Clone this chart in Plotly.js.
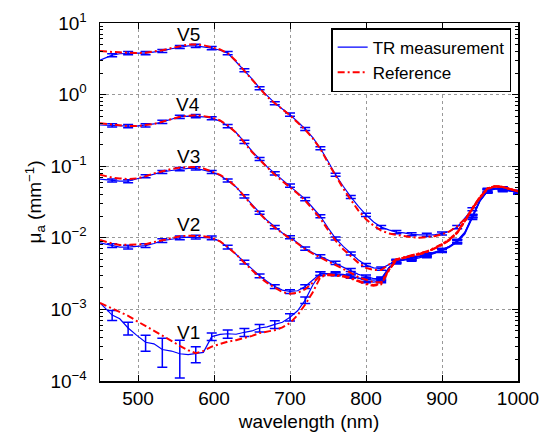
<!DOCTYPE html>
<html>
<head>
<meta charset="utf-8">
<script src="https://cdn.plot.ly/plotly-3.0.1.min.js"></script>
<style>html,body{margin:0;padding:0;background:#fff;}#chart{width:543px;height:436px;}</style>
</head>
<body>
<div id="chart"></div>
<script>
// wavelength grid (nm)
const wavelength = [450,458,466,476,487,498,510,521,532,544,555,566,576,586,597,608,618,629,640,650,660,670,680,690,700,710,720,730,740,750,760,770,780,790,800,810,820,830,840,850,860,870,880,890,900,910,920,930,940,950,960,970,980,990,1000];

// TR measurement (mm^-1)
const trV5 = [3.02,3.31,3.55,3.72,3.80,3.80,3.80,3.89,4.07,4.37,4.62,4.79,4.79,4.68,4.47,4.17,3.80,2.88,2.19,1.66,1.23,0.955,0.759,0.631,0.525,0.417,0.331,0.251,0.178,0.117,0.0759,0.0525,0.0372,0.0275,0.0209,0.0166,0.0141,0.0129,0.0120,0.0117,0.0112,0.0110,0.0110,0.0110,0.0115,0.0123,0.0141,0.0186,0.0251,0.0355,0.0468,0.0490,0.0490,0.0457,0.0437];
const trV4 = [0.376,0.372,0.372,0.367,0.363,0.363,0.372,0.389,0.417,0.457,0.490,0.501,0.501,0.490,0.468,0.427,0.363,0.295,0.219,0.162,0.126,0.0977,0.0794,0.0646,0.0537,0.0437,0.0347,0.0263,0.0200,0.0138,0.00977,0.00759,0.00603,0.00490,0.00417,0.00380,0.00372,0.00427,0.00479,0.00501,0.00525,0.00550,0.00589,0.00631,0.00676,0.00759,0.00891,0.0117,0.0200,0.0331,0.0447,0.0490,0.0479,0.0457,0.0427];
const trV3 = [0.0661,0.0646,0.0631,0.0617,0.0617,0.0661,0.0724,0.0776,0.0832,0.0871,0.0912,0.0933,0.0933,0.0891,0.0832,0.0741,0.0631,0.0513,0.0380,0.0288,0.0224,0.0174,0.0141,0.0117,0.0102,0.00851,0.00708,0.00617,0.00550,0.00501,0.00447,0.00398,0.00355,0.00309,0.00288,0.00269,0.00269,0.00380,0.00468,0.00490,0.00513,0.00537,0.00575,0.00617,0.00661,0.00759,0.00891,0.0117,0.0200,0.0331,0.0457,0.0490,0.0479,0.0457,0.0427];
const trV2 = [0.00851,0.00813,0.00776,0.00741,0.00741,0.00759,0.00776,0.00832,0.00912,0.00955,0.0100,0.0102,0.0102,0.0102,0.0100,0.00891,0.00741,0.00589,0.00457,0.00363,0.00295,0.00245,0.00209,0.00186,0.00178,0.00182,0.00209,0.00257,0.00316,0.00316,0.00316,0.00309,0.00295,0.00269,0.00251,0.00240,0.00251,0.00380,0.00457,0.00490,0.00501,0.00525,0.00562,0.00603,0.00661,0.00741,0.00871,0.0112,0.0191,0.0324,0.0447,0.0490,0.0468,0.0447,0.0437];
const trV1 = [0.00123,0.00100,0.000832,0.000740,0.000550,0.000437,0.000347,0.000330,0.000275,0.000262,0.000240,0.000234,0.000240,0.000251,0.000417,0.000447,0.000457,0.000450,0.000479,0.000500,0.000550,0.000570,0.000617,0.000660,0.000776,0.000955,0.00135,0.00219,0.00316,0.00316,0.00309,0.00302,0.00288,0.00275,0.00263,0.00257,0.00263,0.00380,0.00468,0.00490,0.00513,0.00550,0.00575,0.00617,0.00676,0.00759,0.00912,0.0120,0.0204,0.0339,0.0457,0.0479,0.0479,0.0447,0.0427];

// Reference (mm^-1)
const refV5 = [4.07,3.98,3.94,3.89,3.80,3.80,3.85,3.98,4.17,4.47,4.79,5.01,5.01,4.90,4.57,4.27,3.80,2.95,2.14,1.62,1.20,0.933,0.759,0.631,0.513,0.407,0.324,0.245,0.174,0.112,0.0724,0.0490,0.0339,0.0240,0.0182,0.0148,0.0126,0.0115,0.0110,0.0105,0.0102,0.0100,0.0102,0.0105,0.0112,0.0123,0.0145,0.0182,0.0251,0.0363,0.0479,0.0525,0.0513,0.0479,0.0447];
const refV4 = [0.398,0.389,0.380,0.372,0.363,0.363,0.372,0.389,0.417,0.457,0.490,0.507,0.513,0.501,0.479,0.437,0.372,0.295,0.214,0.158,0.123,0.0955,0.0759,0.0617,0.0513,0.0417,0.0331,0.0251,0.0186,0.0129,0.00912,0.00692,0.00550,0.00447,0.00380,0.00355,0.00355,0.00417,0.00501,0.00525,0.00562,0.00589,0.00646,0.00708,0.00813,0.00955,0.0120,0.0174,0.0263,0.0372,0.0490,0.0525,0.0513,0.0479,0.0447];
const refV3 = [0.0759,0.0724,0.0692,0.0676,0.0661,0.0676,0.0724,0.0794,0.0851,0.0912,0.0955,0.0977,0.0977,0.0933,0.0851,0.0759,0.0646,0.0513,0.0380,0.0282,0.0219,0.0170,0.0138,0.0115,0.00977,0.00832,0.00692,0.00603,0.00525,0.00468,0.00417,0.00372,0.00324,0.00282,0.00257,0.00240,0.00240,0.00355,0.00501,0.00537,0.00562,0.00603,0.00646,0.00724,0.00813,0.00955,0.0120,0.0170,0.0263,0.0372,0.0490,0.0525,0.0513,0.0479,0.0447];
const refV2 = [0.00933,0.00871,0.00832,0.00794,0.00794,0.00794,0.00813,0.00871,0.00933,0.0100,0.0105,0.0107,0.0107,0.0105,0.0100,0.00891,0.00741,0.00589,0.00447,0.00355,0.00282,0.00234,0.00200,0.00174,0.00166,0.00170,0.00191,0.00240,0.00295,0.00309,0.00302,0.00295,0.00275,0.00251,0.00229,0.00219,0.00229,0.00355,0.00490,0.00525,0.00550,0.00589,0.00631,0.00708,0.00794,0.00933,0.0117,0.0170,0.0257,0.0363,0.0490,0.0525,0.0513,0.0479,0.0447];
const refV1 = [0.00123,0.00112,0.00102,0.000912,0.000813,0.000692,0.000589,0.000501,0.000427,0.000363,0.000309,0.000269,0.000245,0.000263,0.000302,0.000331,0.000355,0.000372,0.000398,0.000427,0.000468,0.000490,0.000513,0.000562,0.000646,0.000832,0.00117,0.00174,0.00282,0.00302,0.00295,0.00288,0.00269,0.00245,0.00224,0.00214,0.00224,0.00347,0.00490,0.00525,0.00550,0.00589,0.00631,0.00708,0.00794,0.00933,0.0117,0.0170,0.0257,0.0363,0.0490,0.0525,0.0513,0.0479,0.0447];

// error bars: grid indices where a bar is drawn, and bar half-lengths
const errIndex = [2,4,6,8,10,12,14,16,18,20,22,24,26,28,30,32,34,36,38,40,42,44,46,48,50,52,54];
const errV1 = [0.00013,0.00011,0.000087,0.00012,0.00013,0.00006,0.00005,0.00006,0.00006,0.000065,0.000075,0.00009,0.00014,0.00019,0.00015,0.00015,0.00018,0.00016,0.00023,0.00025,0.00029,0.00034,0.00046,0.0010,0.0023,0.0020,0.0018];
const errPercent = {V2: 6, V3: 5, V4: 5, V5: 5};

const labels = ['V5','V4','V3','V2','V1'];
const labelLogY = [0.846,-0.145,-0.858,-1.82,-3.32];
const labelX = 566;

const yTickVals = [0.0001,0.001,0.01,0.1,1,10];
const yTickText = ['10<sup>−4</sup>','10<sup>−3</sup>','10<sup>−2</sup>','10<sup>−1</sup>','10<sup>0</sup>','10<sup>1</sup>'];
const xTickVals = [500,600,700,800,900,1000];

const BLUE = '#0000ff', RED = '#ff0000';
const curves = [
  {name:'V5', tr:trV5, ref:refV5},
  {name:'V4', tr:trV4, ref:refV4},
  {name:'V3', tr:trV3, ref:refV3},
  {name:'V2', tr:trV2, ref:refV2},
  {name:'V1', tr:trV1, ref:refV1}
];

const traces = [];
curves.forEach((c, k) => {
  traces.push({
    x: wavelength, y: c.tr, type:'scatter', mode:'lines',
    line:{color:BLUE, width:1.2}, name:'TR measurement',
    legendgroup:'tr', showlegend:k===0, hoverinfo:'skip'
  });
  const ex = errIndex.map(i => wavelength[i]);
  const ey = errIndex.map(i => c.tr[i]);
  const err = c.name === 'V1'
    ? {type:'data', array:errV1, visible:true, color:BLUE, thickness:1.5, width:5}
    : {type:'percent', value:errPercent[c.name], visible:true, color:BLUE, thickness:1.5, width:5};
  traces.push({
    x: ex, y: ey, type:'scatter', mode:'markers',
    marker:{color:BLUE, size:1}, error_y: err,
    legendgroup:'tr', showlegend:false, hoverinfo:'skip'
  });
});
curves.forEach((c, k) => {
  traces.push({
    x: wavelength, y: c.ref, type:'scatter', mode:'lines',
    line:{color:RED, width:2, dash:'7px,3px,2px,3px'}, name:'Reference',
    legendgroup:'ref', showlegend:k===0, hoverinfo:'skip'
  });
});

// minor tick positions on the log axis
const minorVals = [];
for (let e = -4; e < 1; e++) for (let m = 2; m <= 9; m++) minorVals.push(m * Math.pow(10, e));

const FONT = 'Liberation Sans, Arial, Helvetica, sans-serif';
const layout = {
  width:543, height:436,
  margin:{l:100, r:25, t:23, b:55},
  paper_bgcolor:'#fff', plot_bgcolor:'#fff',
  font:{family:FONT, size:19, color:'#000'},
  showlegend:true,
  legend:{x:0.553, y:0.986, xanchor:'left', yanchor:'top',
          bgcolor:'#fff', bordercolor:'#000', borderwidth:1.5,
          font:{family:FONT, size:17, color:'#000'}, tracegroupgap:0, itemwidth:30},
  xaxis:{
    range:[450,1000], tickmode:'array', tickvals:xTickVals,
    ticks:'inside', ticklen:6, tickwidth:1, tickcolor:'#000',
    showline:true, linecolor:'#000', linewidth:1.5, mirror:'ticks',
    showgrid:true, gridcolor:'#999', griddash:'dot', gridwidth:1,
    zeroline:false, tickfont:{size:19},
    title:{text:'wavelength (nm)', font:{size:19}, standoff:6}
  },
  yaxis:{
    type:'log', range:[-4,1], tickmode:'array', tickvals:yTickVals, ticktext:yTickText,
    ticks:'inside', ticklen:6, tickwidth:1, tickcolor:'#000',
    showline:true, linecolor:'#000', linewidth:1.5, mirror:'ticks',
    showgrid:true, gridcolor:'#999', griddash:'dot', gridwidth:1,
    zeroline:false, tickfont:{size:19}, ticklabelstandoff:8,
    minor:{tickmode:'array', tickvals:minorVals, ticks:'inside', ticklen:3, tickcolor:'#000', showgrid:false},
    title:{text:'μ<sub>a</sub> (mm<sup>−1</sup>)', font:{size:19}, standoff:3}
  },
  annotations: labels.map((t, i) => ({
    x: labelX, y: labelLogY[i], xref:'x', yref:'y', text:t, showarrow:false,
    font:{family:FONT, size:19, color:'#000'}
  }))
};

Plotly.newPlot('chart', traces, layout, {displayModeBar:false, staticPlot:true});
</script>
</body>
</html>
